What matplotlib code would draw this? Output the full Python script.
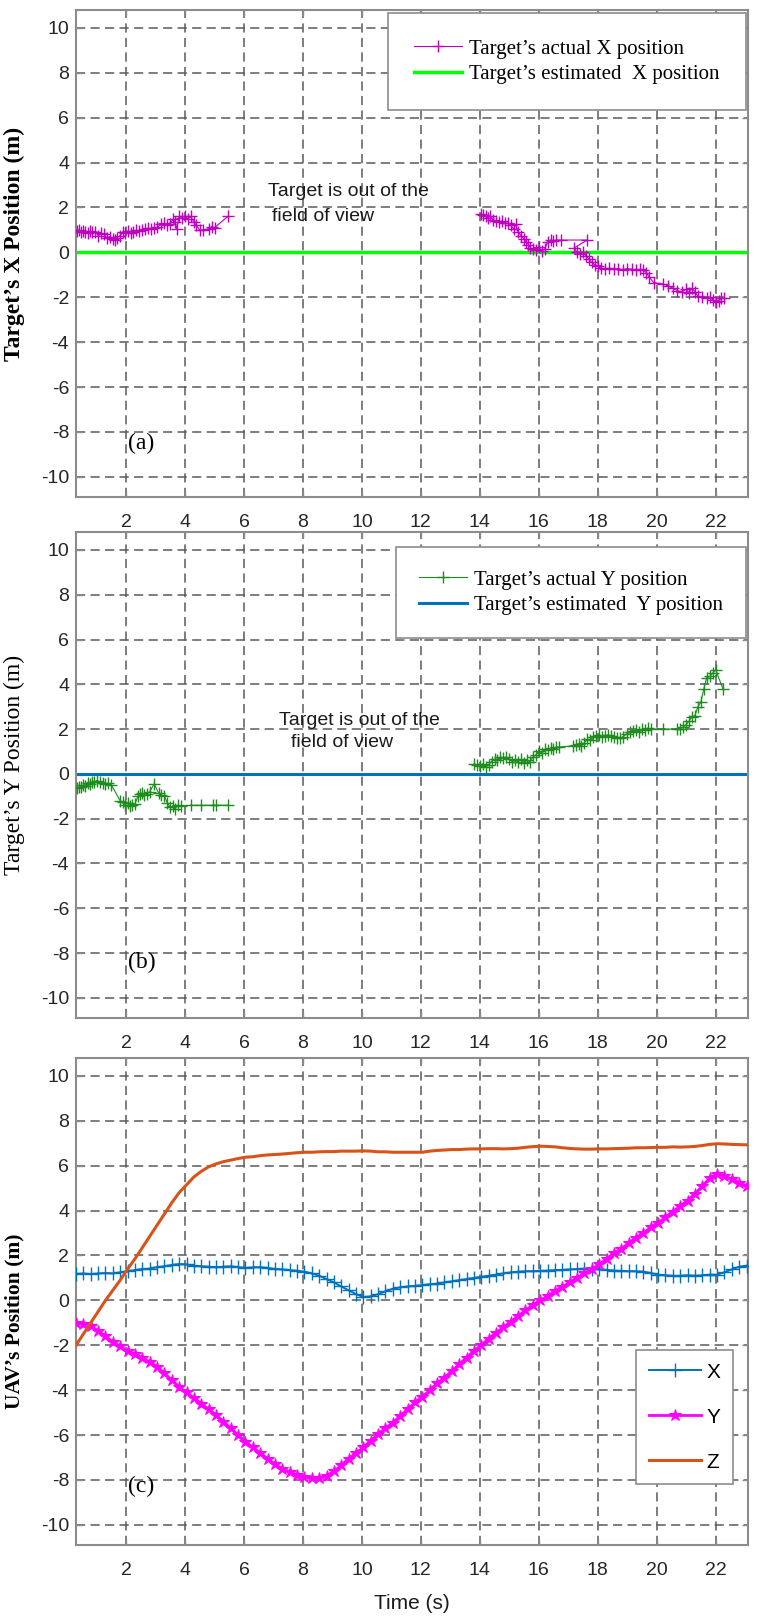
import matplotlib
matplotlib.use('Agg')
import matplotlib.pyplot as plt

plt.rcParams['font.family'] = ['Liberation Sans', 'DejaVu Sans']
plt.rcParams['axes.unicode_minus'] = False

# ---------------- data ----------------
x_ticks = [2, 4, 6, 8, 10, 12, 14, 16, 18, 20, 22]
x_tick_labels = ['2', '4', '6', '8', '10', '12', '14', '16', '18', '20', '22']
y_ticks = [-10, -8, -6, -4, -2, 0, 2, 4, 6, 8, 10]
y_tick_labels = ['-10', '-8', '-6', '-4', '-2', '0', '2', '4', '6', '8', '10']

# panel (a): target X
ax1_t = [0.32, 0.40, 0.48, 0.55, 0.62, 0.70, 0.78, 0.85, 0.95, 1.05,
         1.15, 1.25, 1.35, 1.45, 1.55, 1.62, 1.70, 1.80, 1.88, 1.95,
         2.05, 2.15, 2.25, 2.35, 2.45, 2.55, 2.65, 2.75, 2.85, 2.95,
         3.05, 3.20, 3.30, 3.40, 3.50, 3.60, 3.65, 3.72, 3.80, 3.90,
         4.00, 4.10, 4.20, 4.30, 4.38, 4.50, 4.62, 4.80, 4.90, 5.00, 5.45]
ax1_x = [0.95, 1.00, 0.90, 0.95, 0.92, 0.85, 0.95, 0.90, 0.92, 0.75,
         0.85, 0.80, 0.65, 0.70, 0.60, 0.55, 0.65, 0.75, 0.90, 0.85,
         0.95, 0.88, 0.92, 0.98, 0.95, 1.00, 1.05, 1.08, 1.02, 1.10,
         1.12, 1.25, 1.30, 1.20, 1.28, 1.50, 1.35, 1.05, 1.60, 1.55,
         1.62, 1.50, 1.60, 1.35, 1.20, 1.00, 1.00, 1.05, 1.15, 1.10, 1.60]
ax2_t = [14.05, 14.12, 14.20, 14.28, 14.35, 14.45, 14.55, 14.65, 14.75, 14.85,
         14.95, 15.05, 15.15, 15.22, 15.30, 15.40, 15.50, 15.58, 15.65, 15.72,
         15.80, 15.90, 16.00, 16.10, 16.20, 16.30, 16.40, 16.50, 16.60, 16.75,
         17.65, 17.20, 17.30, 17.40, 17.50, 17.60, 17.70, 17.80, 17.90, 18.00,
         18.10, 18.25, 18.40, 18.55, 18.70, 18.85, 19.00, 19.15, 19.30, 19.45,
         19.55, 19.65, 19.75, 19.90, 20.20, 20.40, 20.55, 20.70, 20.85, 21.00,
         21.10, 21.20, 21.30, 21.40, 21.55, 21.70, 21.80, 21.90, 22.00, 22.10,
         22.20, 22.30]
ax2_x = [1.70, 1.65, 1.60, 1.55, 1.60, 1.45, 1.40, 1.35, 1.40, 1.30,
         1.30, 1.20, 1.05, 1.25, 0.90, 0.75, 0.60, 0.45, 0.35, 0.20,
         0.15, 0.10, 0.25, 0.05, 0.15, 0.45, 0.55, 0.50, 0.55, 0.55,
         0.55, 0.20, 0.00, -0.05, 0.00, -0.15, -0.30, -0.45, -0.55, -0.60,
         -0.70, -0.75, -0.70, -0.75, -0.72, -0.78, -0.72, -0.75, -0.80, -0.75,
         -0.80, -0.90, -1.10, -1.35, -1.40, -1.50, -1.60, -1.70, -1.75, -1.65,
         -1.80, -1.60, -1.75, -1.95, -2.00, -2.05, -2.00, -2.10, -2.20, -2.15,
         -2.05, -2.05]
est_t = [0.3, 23.1]
est_x = [0.0, 0.0]

# panel (b): target Y
ay1_t = [0.32, 0.40, 0.48, 0.55, 0.62, 0.70, 0.78, 0.85, 0.92, 1.00,
         1.10, 1.20, 1.30, 1.40, 1.50, 1.80, 1.88, 1.95, 2.05, 2.12,
         2.20, 2.30, 2.40, 2.48, 2.55, 2.62, 2.70, 2.80, 2.95, 3.10,
         3.20, 3.30, 3.40, 3.50, 3.58, 3.65, 3.75, 3.85, 4.20, 4.55,
         4.95, 5.05, 5.45]
ay1_y = [-0.65, -0.60, -0.60, -0.50, -0.55, -0.42, -0.45, -0.35, -0.38, -0.30,
         -0.35, -0.40, -0.45, -0.42, -0.50, -1.20, -1.25, -1.40, -1.30, -1.45,
         -1.40, -1.35, -1.00, -0.90, -0.85, -0.95, -0.88, -0.80, -0.45, -0.85,
         -0.95, -1.00, -1.30, -1.50, -1.45, -1.55, -1.40, -1.45, -1.40, -1.40,
         -1.40, -1.40, -1.40]
ay2_t = [13.80, 13.90, 14.00, 14.10, 14.20, 14.30, 14.40, 14.50, 14.60, 14.70,
         14.80, 14.90, 15.00, 15.10, 15.20, 15.30, 15.40, 15.50, 15.60, 15.70,
         15.80, 15.90, 16.00, 16.10, 16.20, 16.30, 16.40, 16.50, 16.60, 16.70,
         17.15, 17.25, 17.35, 17.45, 17.55, 17.65, 17.75, 17.85, 17.95, 18.05,
         18.15, 18.25, 18.35, 18.45, 18.55, 18.65, 18.75, 18.85, 19.00, 19.10,
         19.20, 19.30, 19.40, 19.50, 19.60, 19.70, 19.80, 20.20, 20.70, 20.80,
         20.90, 21.00, 21.10, 21.20, 21.30, 21.40, 21.50, 21.60, 21.70, 21.80,
         21.90, 22.00, 22.25]
ay2_y = [0.45, 0.40, 0.35, 0.45, 0.30, 0.40, 0.55, 0.65, 0.60, 0.75,
         0.70, 0.75, 0.65, 0.55, 0.60, 0.55, 0.65, 0.50, 0.60, 0.55,
         0.75, 0.85, 1.00, 0.95, 1.10, 1.05, 1.15, 1.10, 1.20, 1.20,
         1.25, 1.30, 1.35, 1.25, 1.40, 1.55, 1.50, 1.65, 1.70, 1.75,
         1.65, 1.70, 1.75, 1.70, 1.65, 1.60, 1.60, 1.65, 1.80, 1.85,
         1.90, 1.95, 1.85, 2.00, 1.95, 2.05, 2.00, 2.00, 2.00, 2.00,
         2.10, 2.20, 2.35, 2.55, 2.60, 3.00, 3.20, 3.80, 4.30, 4.35,
         4.50, 4.65, 3.80]
est_y = [0.0, 0.0]

# panel (c): UAV position
uav_t = [0.30, 0.55, 0.80, 1.05, 1.30, 1.55, 1.80, 2.05, 2.30, 2.55, 2.80, 3.05,
         3.30, 3.55, 3.80, 4.05, 4.30, 4.55, 4.80, 5.05, 5.30, 5.55, 5.80, 6.05,
         6.30, 6.55, 6.80, 7.05, 7.30, 7.55, 7.80, 8.05, 8.30, 8.55, 8.80, 9.05,
         9.30, 9.55, 9.80, 10.05, 10.30, 10.55, 10.80, 11.05, 11.30, 11.55, 11.80, 12.05,
         12.30, 12.55, 12.80, 13.05, 13.30, 13.55, 13.80, 14.05, 14.30, 14.55, 14.80, 15.05,
         15.30, 15.55, 15.80, 16.05, 16.30, 16.55, 16.80, 17.05, 17.30, 17.55, 17.80, 18.05,
         18.30, 18.55, 18.80, 19.05, 19.30, 19.55, 19.80, 20.05, 20.30, 20.55, 20.80, 21.05,
         21.30, 21.55, 21.80, 22.05, 22.30, 22.55, 22.80, 23.05]
uav_x = [1.18, 1.20, 1.17, 1.20, 1.22, 1.20, 1.25, 1.30, 1.35, 1.40, 1.42, 1.48,
         1.52, 1.58, 1.62, 1.60, 1.55, 1.52, 1.50, 1.48, 1.50, 1.52, 1.48, 1.45,
         1.47, 1.48, 1.45, 1.40, 1.38, 1.35, 1.32, 1.28, 1.20, 1.10, 0.95, 0.80,
         0.62, 0.45, 0.28, 0.15, 0.18, 0.28, 0.40, 0.52, 0.58, 0.62, 0.65, 0.68,
         0.72, 0.75, 0.80, 0.85, 0.90, 0.95, 1.00, 1.05, 1.10, 1.15, 1.20, 1.25,
         1.28, 1.30, 1.30, 1.32, 1.33, 1.35, 1.36, 1.38, 1.40, 1.42, 1.40, 1.38,
         1.36, 1.33, 1.32, 1.30, 1.30, 1.28, 1.22, 1.15, 1.12, 1.10, 1.10, 1.12,
         1.10, 1.12, 1.15, 1.15, 1.25, 1.38, 1.50, 1.55]
uav_y = [-1.00, -1.05, -1.15, -1.35, -1.60, -1.85, -2.05, -2.25, -2.40, -2.55, -2.75, -2.95,
         -3.25, -3.55, -3.85, -4.10, -4.35, -4.60, -4.85, -5.10, -5.40, -5.70, -6.00, -6.30,
         -6.55, -6.80, -7.05, -7.30, -7.50, -7.65, -7.80, -7.88, -7.92, -7.90, -7.82, -7.62,
         -7.35, -7.05, -6.80, -6.55, -6.25, -5.95, -5.70, -5.45, -5.15, -4.85, -4.55, -4.30,
         -4.00, -3.70, -3.45, -3.15, -2.85, -2.55, -2.25, -2.00, -1.70, -1.45, -1.20, -0.95,
         -0.70, -0.45, -0.20, 0.00, 0.20, 0.40, 0.60, 0.80, 1.00, 1.20, 1.40, 1.60,
         1.85, 2.10, 2.30, 2.55, 2.80, 3.00, 3.25, 3.45, 3.70, 3.95, 4.20, 4.45,
         4.75, 5.10, 5.45, 5.65, 5.55, 5.40, 5.25, 5.10]
uav_z = [-2.00, -1.50, -1.00, -0.50, 0.00, 0.45, 0.90, 1.40, 1.85, 2.35, 2.85, 3.35,
         3.85, 4.35, 4.80, 5.15, 5.50, 5.75, 5.95, 6.08, 6.18, 6.25, 6.32, 6.38,
         6.40, 6.45, 6.48, 6.50, 6.52, 6.55, 6.58, 6.60, 6.60, 6.62, 6.63, 6.63,
         6.65, 6.65, 6.65, 6.66, 6.65, 6.62, 6.62, 6.60, 6.60, 6.60, 6.60, 6.60,
         6.65, 6.68, 6.70, 6.72, 6.72, 6.74, 6.75, 6.75, 6.76, 6.76, 6.75, 6.76,
         6.78, 6.82, 6.85, 6.87, 6.86, 6.84, 6.80, 6.77, 6.75, 6.74, 6.74, 6.75,
         6.75, 6.76, 6.77, 6.78, 6.80, 6.80, 6.81, 6.82, 6.82, 6.84, 6.83, 6.84,
         6.86, 6.90, 6.95, 6.98, 6.97, 6.95, 6.94, 6.93]

# ---------------- figure ----------------
fig = plt.figure(figsize=(7.58, 16.23), dpi=100)
L, W = 76 / 758, 672 / 758
ax_a = fig.add_axes([L, 1 - 497 / 1623, W, 487 / 1623])
ax_b = fig.add_axes([L, 1 - 1018 / 1623, W, 486 / 1623])
ax_c = fig.add_axes([L, 1 - 1545 / 1623, W, 487 / 1623])

SERIF = ['Liberation Serif', 'DejaVu Serif']
SANS = ['Liberation Sans', 'DejaVu Sans']


def style(ax):
    ax.set_xlim(0.3, 23.1)
    ax.set_ylim(-10.9, 10.8)
    ax.set_xticks(x_ticks)
    ax.set_xticklabels(x_tick_labels)
    ax.set_yticks(y_ticks)
    ax.set_yticklabels(y_tick_labels)
    ax.grid(True, color='#5a5a5a', linestyle=(0, (6, 3.5)), linewidth=1.1)
    ax.set_axisbelow(True)
    for s in ax.spines.values():
        s.set_color('#8c8c8c')
        s.set_linewidth(1.5)
    ax.tick_params(direction='in', length=4, width=1, colors='#8c8c8c',
                   labelcolor='#262626', labelsize=14, top=True, right=True)
    ax.tick_params(axis='x', pad=12)
    ax.tick_params(axis='y', pad=5)


for ax in (ax_a, ax_b, ax_c):
    style(ax)


def make_legend(ax, handles, labels, anchor, loc, prop, **kw):
    leg = ax.legend(handles, labels, loc=loc, bbox_to_anchor=anchor,
                    borderaxespad=0, prop=prop, fancybox=False,
                    edgecolor='#8c8c8c', framealpha=1, **kw)
    leg.get_frame().set_linewidth(1.2)
    return leg


# panel a
ax_a.plot(est_t, est_x, color='#00ff00', linewidth=2.5, zorder=2,
          label="Target\u2019s estimated  X position")
ax_a.plot(ax1_t, ax1_x, color='#c000c0', marker='+', markersize=8,
          markeredgewidth=1.0, linewidth=0.8, zorder=3,
          label="Target\u2019s actual X position")
ax_a.plot(ax2_t, ax2_x, color='#c000c0', marker='+', markersize=8,
          markeredgewidth=1.0, linewidth=0.8, zorder=3)
ax_a.set_ylabel("Target\u2019s X Position (m)", fontfamily=SERIF, fontsize=17,
                fontweight='bold')
ax_a.text(6.8, 2.7, 'Target is out of the', fontsize=14, color='#1a1a1a', va='center')
ax_a.text(6.95, 1.6, 'field of view', fontsize=14, color='#1a1a1a', va='center')
ax_a.text(2.05, -8.5, '(a)', fontfamily=SERIF, fontsize=17, va='center')
h, l = ax_a.get_legend_handles_labels()
make_legend(ax_a, [h[1], h[0]], [l[1], l[0]], (0.997, 0.994), 'upper right',
            {'family': SERIF, 'size': 15}, borderpad=1.25, labelspacing=0.3,
            handlelength=2.3, handletextpad=0.35)

# panel b
ax_b.plot(est_t, est_y, color='#0072bd', linewidth=2.2, zorder=2,
          label="Target\u2019s estimated  Y position")
ax_b.plot(ay1_t, ay1_y, color='#1e8c1e', marker='+', markersize=8,
          markeredgewidth=1.0, linewidth=0.8, zorder=3,
          label="Target\u2019s actual Y position")
ax_b.plot(ay2_t, ay2_y, color='#1e8c1e', marker='+', markersize=8,
          markeredgewidth=1.0, linewidth=0.8, zorder=3)
ax_b.set_ylabel("Target\u2019s Y Position (m)", fontfamily=SERIF, fontsize=17)
ax_b.text(7.2, 2.4, 'Target is out of the', fontsize=14, color='#1a1a1a', va='center')
ax_b.text(7.6, 1.4, 'field of view', fontsize=14, color='#1a1a1a', va='center')
ax_b.text(2.05, -8.4, '(b)', fontfamily=SERIF, fontsize=17, va='center')
h, l = ax_b.get_legend_handles_labels()
make_legend(ax_b, [h[1], h[0]], [l[1], l[0]], (0.997, 0.969), 'upper right',
            {'family': SERIF, 'size': 15}, borderpad=1.1, labelspacing=0.3,
            handlelength=2.3, handletextpad=0.35)

# panel c
ax_c.plot(uav_t, uav_x, color='#0072bd', marker='+', markersize=10,
          markeredgewidth=1.0, linewidth=1.4, zorder=3, label='X')
ax_c.plot(uav_t, uav_y, color='#ff00ff', marker='*', markersize=9,
          markeredgewidth=0.8, linewidth=2.0, zorder=3, label='Y')
ax_c.plot(uav_t, uav_z, color='#d95319', linewidth=2.2, zorder=4, label='Z')
ax_c.set_ylabel("UAV\u2019s Position (m)", fontfamily=SERIF, fontsize=15.5,
                fontweight='bold')
ax_c.set_xlabel('Time (s)', fontsize=15, color='#1a1a1a', labelpad=11)
ax_c.text(2.05, -8.3, '(c)', fontfamily=SERIF, fontsize=17, va='center')
h, l = ax_c.get_legend_handles_labels()
make_legend(ax_c, h, l, (0.978, 0.125), 'lower right',
            {'family': SANS, 'size': 15}, borderpad=0.6, labelspacing=1.25,
            handlelength=2.5, handletextpad=0.3)

ax_a.yaxis.set_label_coords(-0.076, 0.52)
ax_b.yaxis.set_label_coords(-0.076, 0.52)
ax_c.yaxis.set_label_coords(-0.076, 0.46)

fig.savefig('out.png', dpi=100)
